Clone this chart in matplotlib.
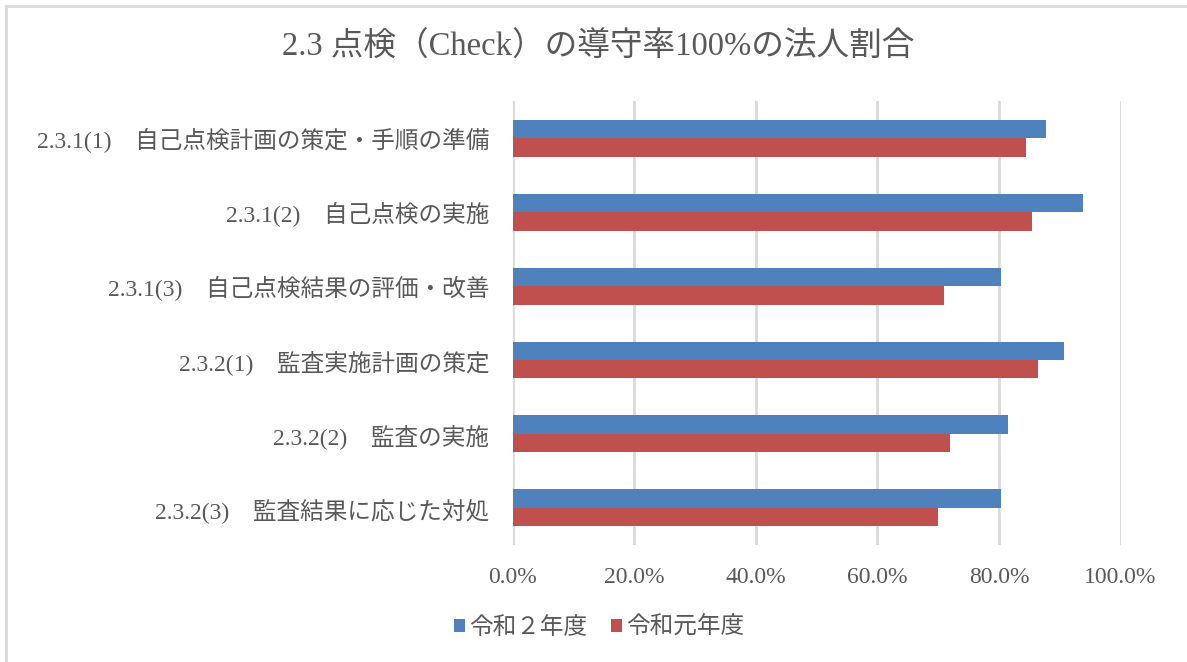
import numpy as np
import matplotlib
matplotlib.use('Agg')
import matplotlib.pyplot as plt
from matplotlib.patches import Rectangle

plt.rcParams['font.family'] = ['Liberation Serif', 'Noto Sans CJK JP']

categories = [
    '2.3.1(1)\u3000自己点検計画の策定・手順の準備',
    '2.3.1(2)\u3000自己点検の実施',
    '2.3.1(3)\u3000自己点検結果の評価・改善',
    '2.3.2(1)\u3000監査実施計画の策定',
    '2.3.2(2)\u3000監査の実施',
    '2.3.2(3)\u3000監査結果に応じた対処',
]
reiwa2 = [87.7, 93.9, 80.4, 90.7, 81.5, 80.4]
reiwa1 = [84.4, 85.4, 70.9, 86.5, 71.9, 69.9]
series_names = ['令和２年度', '令和元年度']
xticks = [0, 20, 40, 60, 80, 100]

grey = '#595959'
fig = plt.figure(figsize=(11.87, 6.62), dpi=100)
ax = fig.add_axes([0.432, 0.177, 0.512, 0.67])

y = np.arange(len(categories))
h = 0.25
ax.barh(y - h / 2, reiwa2, height=h, color='#4F81BD', label=series_names[0], zorder=3)
ax.barh(y + h / 2, reiwa1, height=h, color='#C0504D', label=series_names[1], zorder=3)

ax.set_ylim(len(categories) - 0.5, -0.5)
ax.set_xlim(0, 100)
ax.set_yticks(y)
ax.set_yticklabels(categories, fontsize=17, color=grey)
ax.set_xticks(xticks)
ax.set_xticklabels(['%.1f%%' % v for v in xticks], fontsize=17, color=grey)
ax.tick_params(axis='both', length=0)
ax.tick_params(axis='y', pad=17)
ax.tick_params(axis='x', pad=16)
ax.grid(axis='x', color='#D9D9D9', linewidth=2, zorder=0)
for s in ax.spines.values():
    s.set_visible(False)

fig.text(0.504, 0.928, '2.3 点検（Check）の導守率100%の法人割合',
         ha='center', va='center', fontsize=23.5, color=grey)

leg = fig.legend(loc='center', bbox_to_anchor=(0.505, 0.052), ncol=2, frameon=False,
                 fontsize=17, handlelength=0.45, handleheight=0.45,
                 handletextpad=0.2, columnspacing=1.0)
for t in leg.get_texts():
    t.set_color(grey)

fig.patches.append(Rectangle((6 / 1187, -0.1), 1.2, 1.1 - 6 / 662,
                             transform=fig.transFigure, fill=False,
                             edgecolor='#D9D9D9', linewidth=2))

plt.savefig('out.png')
